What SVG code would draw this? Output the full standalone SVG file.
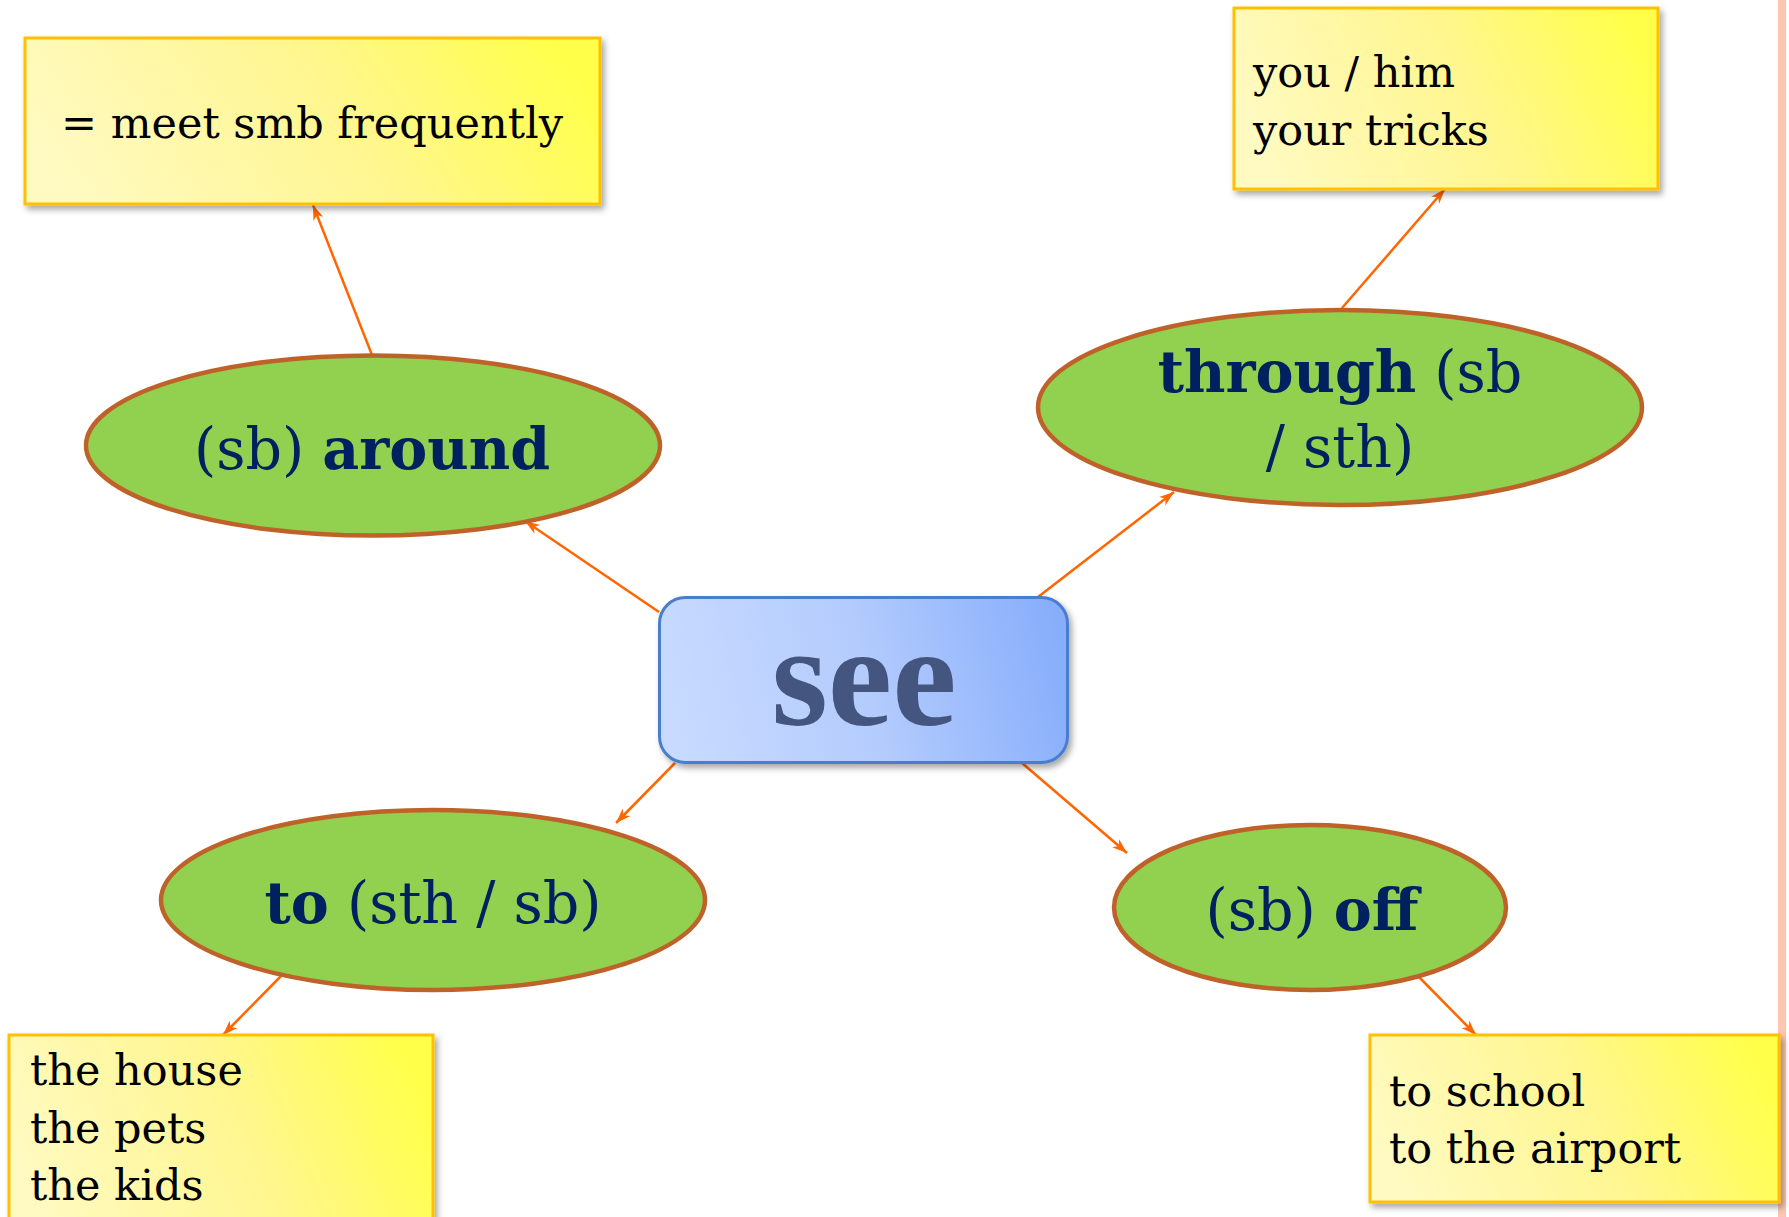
<svg xmlns="http://www.w3.org/2000/svg" width="1789" height="1217" viewBox="0 0 1789 1217">
<defs>
<linearGradient id="yel" x1="0" y1="0.6" x2="1" y2="0.4">
<stop offset="0" stop-color="#fffac2"/>
<stop offset="0.55" stop-color="#fff690"/>
<stop offset="1" stop-color="#ffff4a"/>
</linearGradient>
<linearGradient id="blu" x1="0" y1="0.55" x2="1" y2="0.45">
<stop offset="0" stop-color="#c8daff"/>
<stop offset="0.5" stop-color="#b4ccfd"/>
<stop offset="1" stop-color="#88aefb"/>
</linearGradient>
<filter id="sh" x="-10%" y="-10%" width="125%" height="130%">
<feDropShadow dx="3" dy="4" stdDeviation="3" flood-color="#000" flood-opacity="0.35"/>
</filter>
<marker id="arr" viewBox="0 0 14 10" refX="14" refY="5" markerWidth="15" markerHeight="11" markerUnits="userSpaceOnUse" orient="auto">
<path d="M0,0 L14,5 L0,10 L4,5 z" fill="#ff6600"/>
</marker>
</defs>
<style>
.note{fill:url(#yel);stroke:#ffc000;stroke-width:3;filter:url(#sh)}
.ell{fill:#92d050;stroke:#bf622a;stroke-width:4.5}
.nt{font-family:"DejaVu Serif",serif;font-size:43px;fill:#000}
.et{font-family:"DejaVu Serif",serif;font-size:57px;fill:#002060}
.b{font-weight:bold}
.con{stroke:#ff6600;stroke-width:2.5;fill:none;marker-end:url(#arr)}
</style>
<rect x="0" y="0" width="1789" height="1217" fill="#ffffff"/>
<rect x="1778" y="0" width="8" height="1217" fill="#fdc6b2"/>

<g id="connectors">
<path class="con" d="M659,612 L525,521"/>
<path class="con" d="M372,355 L313,205"/>
<path class="con" d="M1038,597 L1174,492"/>
<path class="con" d="M1342,308 L1445,189"/>
<path class="con" d="M675,763 L616,823"/>
<path class="con" d="M1022,763 L1127,853"/>
<path class="con" d="M281,976 L223,1035"/>
<path class="con" d="M1418,976 L1476,1035"/>
</g>

<g id="note-around">
<rect class="note" x="25" y="38" width="575" height="166"/>
<text class="nt" x="312" y="138" text-anchor="middle">= meet smb frequently</text>
</g>

<g id="note-through">
<rect class="note" x="1234" y="8" width="424" height="181"/>
<text class="nt" x="1253" y="87">you / him</text>
<text class="nt" x="1253" y="145">your tricks</text>
</g>

<g id="note-to">
<rect class="note" x="9" y="1035" width="424" height="200"/>
<text class="nt" x="30" y="1085">the house</text>
<text class="nt" x="30" y="1143">the pets</text>
<text class="nt" x="30" y="1200">the kids</text>
</g>

<g id="note-off">
<rect class="note" x="1370" y="1035" width="409" height="167"/>
<text class="nt" x="1389" y="1106">to school</text>
<text class="nt" x="1389" y="1163">to the airport</text>
</g>

<g id="node-around">
<ellipse class="ell" cx="373" cy="445.5" rx="287" ry="90"/>
<text class="et" x="372" y="469" text-anchor="middle">(sb) <tspan class="b">around</tspan></text>
</g>

<g id="node-through">
<ellipse class="ell" cx="1340" cy="407.5" rx="302" ry="97.5"/>
<text class="et" x="1340" y="392" text-anchor="middle"><tspan class="b">through</tspan> (sb</text>
<text class="et" x="1340" y="467" text-anchor="middle">/ sth)</text>
</g>

<g id="node-to">
<ellipse class="ell" cx="433" cy="900" rx="272" ry="90"/>
<text class="et" x="433" y="923" text-anchor="middle"><tspan class="b">to</tspan> (sth / sb)</text>
</g>

<g id="node-off">
<ellipse class="ell" cx="1310" cy="907.5" rx="196" ry="82.5"/>
<text class="et" x="1312" y="930" text-anchor="middle">(sb) <tspan class="b">off</tspan></text>
</g>

<g id="node-see">
<rect x="659.5" y="597.5" width="408" height="165" rx="26" fill="url(#blu)" stroke="#4a7ecf" stroke-width="3" filter="url(#sh)"/>
<text x="864" y="725" text-anchor="middle" font-family="'Liberation Serif',serif" font-weight="bold" font-size="145" fill="#44557f">see</text>
</g>
</svg>
